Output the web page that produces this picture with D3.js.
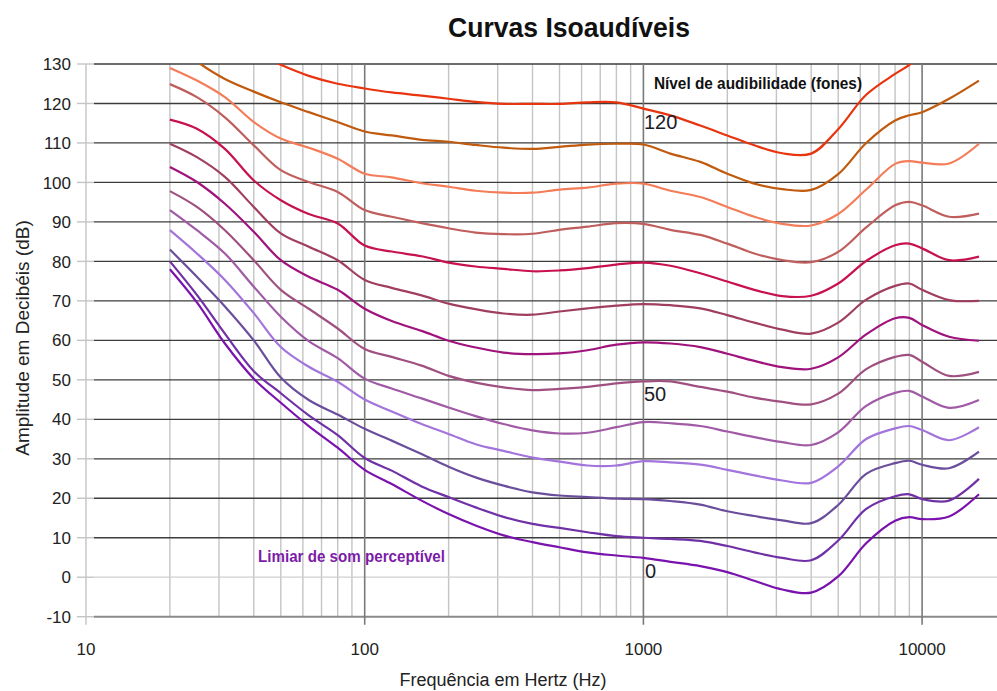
<!DOCTYPE html>
<html><head><meta charset="utf-8">
<script src="https://cdn.jsdelivr.net/npm/d3@7"></script>
<style>
body{margin:0;background:#fff}
svg{display:block;font-family:"Liberation Sans",Arial,sans-serif}
</style>
</head><body>
<svg id="chart" width="997" height="691"></svg>
<script>
// ---- data ----
const frequencies = [20,25,31.5,40,50,63,80,100,125,160,200,250,315,400,500,630,800,1000,1250,1600,2000,2500,3150,4000,5000,6300,8000,9000,10000,12500,16000];
const phon0   = [78,69.6,59.2,50.3,44.2,38.3,32.8,27.2,23.6,19.4,16,13.1,10.6,8.9,7.6,6.3,5.5,4.9,3.9,2.8,1.3,-0.9,-3.1,-3.9,0.2,8.6,14.3,15.2,14.7,15.4,21];
const phon10  = [80,71.5,61.7,52.2,46.6,41,36,30.2,27,23,20.3,17.7,15.3,13.5,12.5,11.4,10.4,10,9.7,9.2,7.9,6.3,4.9,4.3,9.3,17.3,20.5,21,19.8,19.4,24.9];
const phon20  = [83,76.1,68.6,60,50.6,44.9,41.2,37.6,34.6,31.2,28,25.3,23.2,21.5,20.7,20.3,19.9,19.8,19.3,18.4,16.7,15.5,14.4,13.7,18.3,26.2,28.9,29.5,28.5,27.6,31.8];
const phon30  = [87.9,82,75.3,66.9,58.3,53.3,49.5,45,42,38.8,36.3,33.7,32,30.3,29.3,28.3,28.3,29.4,29.1,28.5,27.2,25.8,24.5,23.9,28.1,35,37.7,38.3,37.3,34.7,38];
const phon40  = [93,87.9,82,73.6,66,59.8,55.5,50.3,47.8,45.3,43,40.8,38.8,37.2,36.4,36.6,38,39.3,39,38.3,36.9,35.5,34.2,33.5,36.7,43.4,46.7,47.2,45.8,42.9,44.9];
const phon50  = [97.8,93.8,87.9,80.3,72.8,68,63,57.8,55.8,53.6,51,49.3,48.1,47.4,47.7,48.2,49.1,49.6,49.6,48.2,47,45.5,44.4,43.8,46.5,52.7,55.8,56.3,54.6,51,52];
const phon60  = [103.9,100.1,94.6,87.5,80.3,76.1,72.8,68,64.9,62.4,59.9,58.2,56.9,56.5,56.7,57.5,58.9,59.5,59.2,58.3,56.6,54.8,53.2,52.8,55.7,61.5,65.6,65.7,63.9,60.9,59.9];
const phon70  = [109.8,106.4,101.4,93.8,87.1,83.7,80.3,75.3,73.3,71.4,69.3,67.9,66.8,66.5,67.3,68.1,68.8,69.2,68.9,68.1,66.4,64.5,62.7,61.7,64.5,70.3,73.8,74.4,72.8,70.2,70];
const phon80  = [115.9,113.6,108.5,100.5,95.5,92,89.6,84,82.5,81.3,79.7,78.7,78.1,77.5,77.7,78.3,79.2,79.7,78.9,77,74.9,72.8,71.2,71.3,74.4,80.1,84.1,84.5,83.3,80.3,81.2];
const phon90  = [124.9,121.6,116.5,109.4,103.1,100.1,97.6,93,91.3,89.7,88.4,87.3,86.9,87,88,88.8,89.7,89.5,88,86.7,84.5,82,80.3,79.8,82.4,88.6,94.2,95.1,94.2,91.3,92.1];
const phon100 = [129,125.8,121.6,115.3,111.1,108.8,106,102.2,101.3,99.8,98.9,97.9,97.4,97.4,98.2,98.7,99.7,99.7,97.9,96.3,93.8,91.3,89.5,89.1,92,98.2,104.7,105.4,105,104.8,109.8];
const phon110 = [136,130.6,126.2,123,120.3,117.8,115.3,112.9,111.9,110.8,110.3,109.5,108.8,108.5,109,109.6,109.8,109.6,107.3,105.2,102.2,99.7,98.3,98.1,102.1,110,115.7,117,117.8,121.2,125.8];
const phon120 = [145,141,137,133,129.8,127,125,123.8,122.8,122,121.2,120.4,119.9,119.9,119.9,120.3,120.3,118.7,117,114.4,111.9,109.4,107.4,107.3,113.5,122.2,127.5,129.8,133,137,141];
const seriesValues = [phon0,phon10,phon20,phon30,phon40,phon50,phon60,phon70,phon80,phon90,phon100,phon110,phon120];
const seriesColors = ["#7a12ae","#7030a6","#6a4e9c","#a274dc","#a05aa6","#a05080","#a0127c","#a03e60","#c8124e","#c05e5e","#f47c58","#c05a0e","#e8340f"];
const yTicks = [-10,0,10,20,30,40,50,60,70,80,90,100,110,120,130];
const xTickLabels = [10,100,1000,10000];
const xMinorTicks = [20,30,40,50,60,70,80,90,200,300,400,500,600,700,800,900,2000,3000,4000,5000,6000,7000,8000,9000];

// ---- scales ----
const svg = d3.select("#chart");
const decade = 278.7;
const x = d3.scaleLog().domain([10, 20000]).range([86, 86 + decade * Math.log10(2000)]);
const y = d3.scaleLinear().domain([-10, 130]).range([616.7, 64]);
const plotRight = 997;

svg.append("defs").append("clipPath").attr("id","plotclip")
  .append("rect").attr("x", 86).attr("y", y(130)).attr("width", plotRight - 86).attr("height", y(-10) - y(130));

// ---- grid ----
const grid = svg.append("g");
grid.selectAll("line.minor").data(xMinorTicks).join("line")
  .attr("x1", d => x(d)).attr("x2", d => x(d))
  .attr("y1", y(130)).attr("y2", y(-10))
  .attr("stroke", "#c4c4c4").attr("stroke-width", 1.4);
grid.append("line").attr("x1", x(10)).attr("x2", x(10)).attr("y1", y(130)).attr("y2", y(-10) + 8)
  .attr("stroke", "#c4c4c4").attr("stroke-width", 1.4);
grid.selectAll("line.tick").data(yTicks).join("line")
  .attr("x1", 77).attr("x2", 94).attr("y1", d => y(d)).attr("y2", d => y(d))
  .attr("stroke", "#c4c4c4").attr("stroke-width", 1.4);
grid.selectAll("line.h").data(yTicks).join("line")
  .attr("x1", 94).attr("x2", plotRight).attr("y1", d => y(d)).attr("y2", d => y(d))
  .attr("stroke", d => d === 0 ? "#cfcfcf" : (d === -10 ? "#8a8a8a" : "#3c3c3c"))
  .attr("stroke-width", d => d === -10 ? 2 : 1.3);
grid.selectAll("line.major").data([100,1000,10000]).join("line")
  .attr("x1", d => x(d)).attr("x2", d => x(d))
  .attr("y1", y(130)).attr("y2", y(-10) + 8)
  .attr("stroke", "#7a7a7a").attr("stroke-width", 1.6);

// ---- curves ----
const line = d3.line().x(d => x(d[0])).y(d => y(d[1])).curve(d3.curveCatmullRom.alpha(0.5));
const curves = svg.append("g").attr("clip-path", "url(#plotclip)");
curves.selectAll("path").data(seriesValues).join("path")
  .attr("d", vals => line(frequencies.map((f, i) => [f, vals[i]])))
  .attr("fill", "none")
  .attr("stroke", (d, i) => seriesColors[i])
  .attr("stroke-width", 2.2)
  .attr("stroke-linejoin", "round");

// ---- axis labels ----
svg.append("g").selectAll("text").data(yTicks).join("text")
  .attr("x", 71).attr("y", d => y(d)).attr("dy", "0.36em")
  .attr("text-anchor", "end").attr("font-size", 17).attr("fill", "#222")
  .text(d => d);
svg.append("g").selectAll("text").data(xTickLabels).join("text")
  .attr("x", d => x(d)).attr("y", 655)
  .attr("text-anchor", "middle").attr("font-size", 17).attr("fill", "#222")
  .text(d => d);

svg.append("text").attr("x", 503).attr("y", 686).attr("text-anchor", "middle")
  .attr("font-size", 18).attr("fill", "#222").text("Frequência em Hertz (Hz)");
svg.append("text").attr("transform", "translate(29,338) rotate(-90)").attr("text-anchor", "middle")
  .attr("font-size", 19).attr("fill", "#222").text("Amplitude em Decibéis (dB)");

svg.append("text").attr("x", 569).attr("y", 37).attr("text-anchor", "middle")
  .attr("font-size", 27).attr("font-weight", "bold").attr("fill", "#111")
  .attr("textLength", 242).attr("lengthAdjust", "spacingAndGlyphs")
  .text("Curvas Isoaudíveis");

// ---- annotations ----
svg.append("text").attr("x", 654).attr("y", 89).attr("font-size", 16).attr("font-weight", "bold")
  .attr("fill", "#111").attr("textLength", 208).attr("lengthAdjust", "spacingAndGlyphs")
  .text("Nível de audibilidade (fones)");
svg.append("text").attr("x", 644).attr("y", 129).attr("font-size", 20).attr("fill", "#1c1c28").text("120");
svg.append("text").attr("x", 644).attr("y", 401).attr("font-size", 20).attr("fill", "#1c1c28").text("50");
svg.append("text").attr("x", 645).attr("y", 578).attr("font-size", 20).attr("fill", "#1c1c28").text("0");
svg.append("text").attr("x", 258).attr("y", 562).attr("font-size", 16).attr("font-weight", "bold")
  .attr("fill", "#7d1ca8").attr("textLength", 187).attr("lengthAdjust", "spacingAndGlyphs")
  .text("Limiar de som perceptível");
</script>
</body></html>
